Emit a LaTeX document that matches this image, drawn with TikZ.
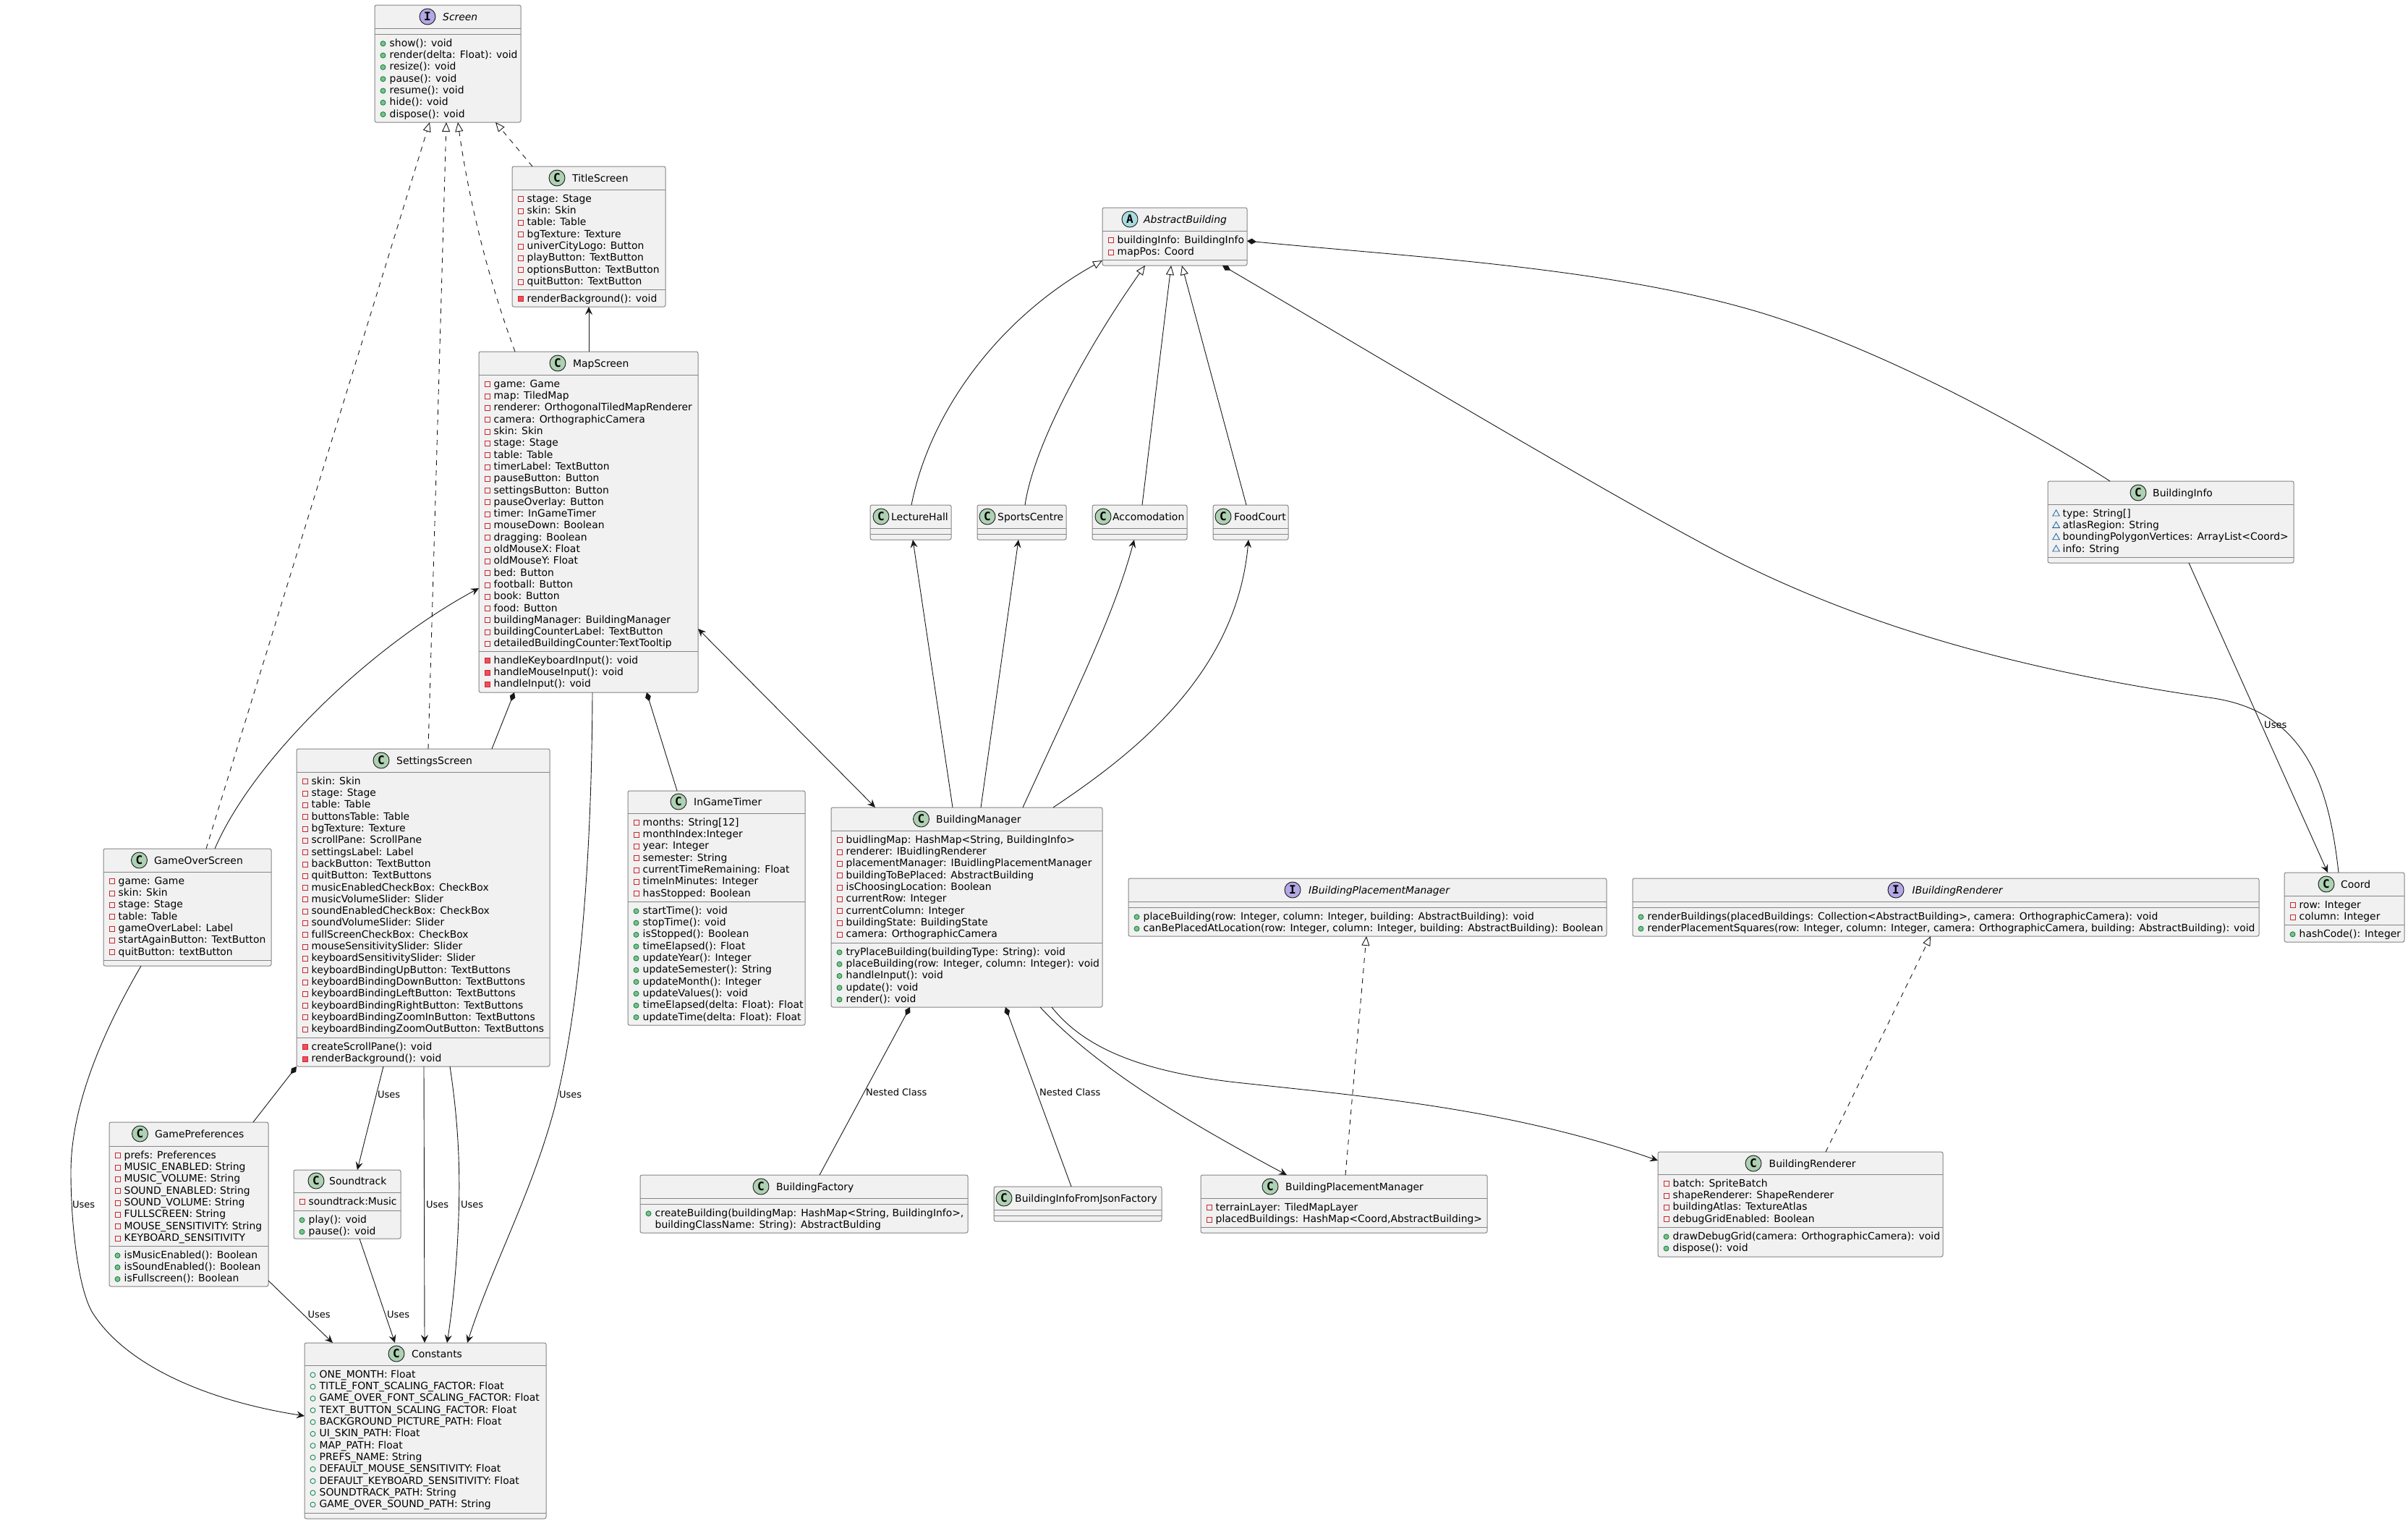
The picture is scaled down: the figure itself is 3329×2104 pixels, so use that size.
\documentclass[tikz,border=0pt]{standalone}
\usepackage{fontspec}
\setmainfont{DejaVu Sans}
\setmonofont{DejaVu Sans Mono}
\usetikzlibrary{arrows.meta,shapes.geometric}
\definecolor{boxfill}{HTML}{F1F1F1}
\definecolor{boxline}{HTML}{858585}
\definecolor{linedark}{HTML}{181818}
\definecolor{visred}{HTML}{C82930}
\definecolor{visredf}{HTML}{F24D5C}
\definecolor{visgreen}{HTML}{038048}
\definecolor{visgreenf}{HTML}{84BE84}
\definecolor{visblue}{HTML}{1963A0}
\tikzstyle{umlbox} = [draw=boxline, fill=boxfill, line width=1pt, rounded corners=2.5pt, anchor=north west, inner sep=0pt, outer sep=0pt]
\tikzstyle{umlrule} = [draw=boxline, line width=1pt]
\tikzstyle{cspot} = [circle, draw=linedark, line width=.9pt, fill={rgb,255:red,173;green,209;blue,178}, minimum size=22pt, inner sep=0pt, font=\fontsize{16}{16}\selectfont\ttfamily\bfseries]
\tikzstyle{ispot} = [cspot, fill={rgb,255:red,180;green,167;blue,229}]
\tikzstyle{aspot} = [cspot, fill={rgb,255:red,169;green,220;blue,223}]
\tikzstyle{cname} = [anchor=base west, inner sep=0pt]
\tikzstyle{rowtext} = [anchor=base west, inner sep=0pt]
\tikzstyle{lbl} = [anchor=west, inner sep=0pt, font=\fontsize{13}{15}\selectfont]
\tikzstyle{priv} = [rectangle, draw=visred, line width=.8pt, minimum size=7pt, inner sep=0pt]
\tikzstyle{privm} = [priv, fill=visredf]
\tikzstyle{pub} = [circle, draw=visgreen, line width=.8pt, fill=visgreenf, minimum size=7pt, inner sep=0pt]
\tikzstyle{pubf} = [circle, draw=visgreen, line width=.8pt, minimum size=7pt, inner sep=0pt]
\tikzstyle{pkg} = [regular polygon, regular polygon sides=3, draw=visblue, line width=.8pt, minimum size=11pt, inner sep=0pt]
\tikzstyle{norow} = [inner sep=0pt]
\tikzstyle{conn} = [draw=linedark, line width=.9pt]
\tikzstyle{uses} = [conn, -{Stealth[length=11pt,width=10pt,inset=4pt]}]
\tikzstyle{both} = [conn, {Stealth[length=11pt,width=10pt,inset=4pt]}-{Stealth[length=11pt,width=10pt,inset=4pt]}]
\tikzstyle{ext} = [conn, -{Triangle[open,length=13pt,width=11pt]}]
\tikzstyle{impl} = [ext, dash pattern=on 7pt off 7pt]
\tikzstyle{comp} = [conn, {Diamond[length=13pt,width=8pt]}-]
\newcommand{\classbox}[5]{
	\pgfmathsetmacro{\boxw}{#4-#2}
	\pgfmathsetmacro{\boxh}{#5-#3}
	\node[umlbox, minimum width=\boxw pt, minimum height=\boxh pt] (#1) at (#2,#3) {};
}
\newcommand{\classrule}[2]{\draw[umlrule] (#1.west |- 0,#2) -- (#1.east |- 0,#2);}
\newcommand{\classhead}[6][cspot]{
	\node[#1] (#2c) at (#3,#4) {#5};
	\node[cname] (#2n) at (#6,#4+5) {\classtext};
}
\newcommand{\classrows}[3]{
	\foreach \vis/\txt [count=\i from 0] in {#3} {
		\pgfmathsetmacro{\rowy}{#2+12.3+\i*16.3}
		\node[\vis] (v#1-#2-\i) at (#1+11.5,\rowy+1) {};
		\node[rowtext] (t#1-#2-\i) at (#1+20.5,\rowy+5) {\txt};
	}
}
\begin{document}
\begin{tikzpicture}[x=1pt, y=-1pt, font=\fontsize{13.9}{16}\selectfont]
	\useasboundingbox (0,0) rectangle (3329,2104);
	% screens
	\classbox{scr}{518}{7}{720}{169}
	\def\classtext{\itshape Screen}\classhead[ispot]{scr}{591}{23}{I}{612}
	\classrule{scr}{39}\classrule{scr}{47}
	\classrows{518}{47}{pub/{show(): void}, pub/{render(delta: Float): void}, pub/{resize(): void}, pub/{pause(): void}, pub/{resume(): void}, pub/{hide(): void}, pub/{dispose(): void}}

	\classbox{title}{708}{230}{920}{424}
	\def\classtext{TitleScreen}\classhead{title}{770}{246}{C}{791}
	\classrule{title}{262}\classrule{title}{400}
	\classrows{708}{262}{priv/{stage: Stage}, priv/{skin: Skin}, priv/{table: Table}, priv/{bgTexture: Texture}, priv/{univerCityLogo: Button}, priv/{playButton: TextButton}, priv/{optionsButton: TextButton}, priv/{quitButton: TextButton}}
	\classrows{708}{400}{privm/{renderBackground(): void}}

	\classbox{map}{662}{486}{965}{957}
	\def\classtext{MapScreen}\classhead{map}{771}{502}{C}{792}
	\classrule{map}{518}\classrule{map}{900}
	\classrows{662}{518}{priv/{game: Game}, priv/{map: TiledMap}, priv/{renderer: OrthogonalTiledMapRenderer}, priv/{camera: OrthographicCamera}, priv/{skin: Skin}, priv/{stage: Stage}, priv/{table: Table}, priv/{timerLabel: TextButton}, priv/{pauseButton: Button}, priv/{settingsButton: Button}, priv/{pauseOverlay: Button}, priv/{timer: InGameTimer}, priv/{mouseDown: Boolean}, priv/{dragging: Boolean}, priv/{oldMouseX: Float}, priv/{oldMouseY: Float}, priv/{bed: Button}, priv/{football: Button}, priv/{book: Button}, priv/{food: Button}, priv/{buildingManager: BuildingManager}, priv/{buildingCounterLabel: TextButton}, priv/{detailedBuildingCounter:TextTooltip}}
	\classrows{662}{900}{privm/{handleKeyboardInput(): void}, privm/{handleMouseInput(): void}, privm/{handleInput(): void}}

	\classbox{settings}{410}{1035}{760}{1474}
	\def\classtext{SettingsScreen}\classhead{settings}{527}{1051}{C}{548}
	\classrule{settings}{1067}\classrule{settings}{1434}
	\classrows{410}{1067}{priv/{skin: Skin}, priv/{stage: Stage}, priv/{table: Table}, priv/{buttonsTable: Table}, priv/{bgTexture: Texture}, priv/{scrollPane: ScrollPane}, priv/{settingsLabel: Label}, priv/{backButton: TextButton}, priv/{quitButton: TextButtons}, priv/{musicEnabledCheckBox: CheckBox}, priv/{musicVolumeSlider: Slider}, priv/{soundEnabledCheckBox: CheckBox}, priv/{soundVolumeSlider: Slider}, priv/{fullScreenCheckBox: CheckBox}, priv/{mouseSensitivitySlider: Slider}, priv/{keyboardSensitivitySlider: Slider}, priv/{keyboardBindingUpButton: TextButtons}, priv/{keyboardBindingDownButton: TextButtons}, priv/{keyboardBindingLeftButton: TextButtons}, priv/{keyboardBindingRightButton: TextButtons}, priv/{keyboardBindingZoomInButton: TextButtons}, priv/{keyboardBindingZoomOutButton: TextButtons}}
	\classrows{410}{1434}{privm/{createScrollPane(): void}, privm/{renderBackground(): void}}

	\classbox{gameover}{143}{1173}{375}{1335}
	\def\classtext{GameOverScreen}\classhead{gameover}{192.5}{1189}{C}{213}
	\classrule{gameover}{1205}\classrule{gameover}{1327}
	\classrows{143}{1205}{priv/{game: Game}, priv/{skin: Skin}, priv/{stage: Stage}, priv/{table: Table}, priv/{gameOverLabel: Label}, priv/{startAgainButton: TextButton}, priv/{quitButton: textButton}}

	\classbox{prefs}{151}{1551}{371}{1778}
	\def\classtext{GamePreferences}\classhead{prefs}{193.5}{1567}{C}{214}
	\classrule{prefs}{1584}\classrule{prefs}{1722}
	\classrows{151}{1584}{priv/{prefs: Preferences}, priv/{MUSIC\_ENABLED: String}, priv/{MUSIC\_VOLUME: String}, priv/{SOUND\_ENABLED: String}, priv/{SOUND\_VOLUME: String}, priv/{FULLSCREEN: String}, priv/{MOUSE\_SENSITIVITY: String}, priv/{KEYBOARD\_SENSITIVITY}}
	\classrows{151}{1722}{pub/{isMusicEnabled(): Boolean}, pub/{isSoundEnabled(): Boolean}, pub/{isFullscreen(): Boolean}}

	\classbox{sound}{406}{1617}{554}{1712}
	\def\classtext{Soundtrack}\classhead{sound}{437}{1632}{C}{455}
	\classrule{sound}{1648}\classrule{sound}{1673}
	\classrows{406}{1648}{priv/{soundtrack:Music}}
	\classrows{406}{1673}{pub/{play(): void}, pub/{pause(): void}}

	\classbox{consts}{421}{1856}{755}{2099}
	\def\classtext{Constants}\classhead{consts}{548}{1871}{C}{569}
	\classrule{consts}{1887}\classrule{consts}{2091}
	\classrows{421}{1887}{pubf/{ONE\_MONTH: Float}, pubf/{TITLE\_FONT\_SCALING\_FACTOR: Float}, pubf/{GAME\_OVER\_FONT\_SCALING\_FACTOR: Float}, pubf/{TEXT\_BUTTON\_SCALING\_FACTOR: Float}, pubf/{BACKGROUND\_PICTURE\_PATH: Float}, pubf/{UI\_SKIN\_PATH: Float}, pubf/{MAP\_PATH: Float}, pubf/{PREFS\_NAME: String}, pubf/{DEFAULT\_MOUSE\_SENSITIVITY: Float}, pubf/{DEFAULT\_KEYBOARD\_SENSITIVITY: Float}, pubf/{SOUNDTRACK\_PATH: String}, pubf/{GAME\_OVER\_SOUND\_PATH: String}}

	\classbox{timer}{868}{1093}{1113}{1417}
	\def\classtext{InGameTimer}\classhead{timer}{938}{1108}{C}{959}
	\classrule{timer}{1124}\classrule{timer}{1246}
	\classrows{868}{1124}{priv/{months: String[12]}, priv/{monthIndex:Integer}, priv/{year: Integer}, priv/{semester: String}, priv/{currentTimeRemaining: Float}, priv/{timeInMinutes: Integer}, priv/{hasStopped: Boolean}}
	\classrows{868}{1246}{pub/{startTime(): void}, pub/{stopTime(): void}, pub/{isStopped(): Boolean}, pub/{timeElapsed(): Float}, pub/{updateYear(): Integer}, pub/{updateSemester(): String}, pub/{updateMonth(): Integer}, pub/{updateValues(): void}, pub/{timeElapsed(delta: Float): Float}, pub/{updateTime(delta: Float): Float}}

	% buildings
	\classbox{manager}{1149}{1116}{1524}{1392}
	\def\classtext{BuildingManager}\classhead{manager}{1273.5}{1132}{C}{1294}
	\classrule{manager}{1148.5}\classrule{manager}{1303.5}
	\classrows{1149}{1148}{priv/{buidlingMap: HashMap<String, BuildingInfo>}, priv/{renderer: IBuidlingRenderer}, priv/{placementManager: IBuidlingPlacementManager}, priv/{buildingToBePlaced: AbstractBuilding}, priv/{isChoosingLocation: Boolean}, priv/{currentRow: Integer}, priv/{currentColumn: Integer}, priv/{buildingState: BuildingState}, priv/{camera: OrthographicCamera}}
	\classrows{1149}{1303}{pub/{tryPlaceBuilding(buildingType: String): void}, pub/{placeBuilding(row: Integer, column: Integer): void}, pub/{handleInput(): void}, pub/{update(): void}, pub/{render(): void}}

	\classbox{factory}{885}{1624}{1338}{1704}
	\def\classtext{BuildingFactory}\classhead{factory}{1052}{1640}{C}{1073}
	\classrule{factory}{1656}\classrule{factory}{1664}
	\classrows{885}{1664}{pub/{createBuilding(buildingMap: HashMap<String, BuildingInfo>,}, norow/{buildingClassName: String): AbstractBulding}}

	\classbox{jsonf}{1374}{1640}{1606}{1688}
	\def\classtext{BuildingInfoFromJsonFactory}\classhead{jsonf}{1388}{1656}{C}{1403}
	\classrule{jsonf}{1672}\classrule{jsonf}{1680}

	\classbox{placer}{1660}{1624}{2056}{1704}
	\def\classtext{BuildingPlacementManager}\classhead{placer}{1756}{1640}{C}{1777}
	\classrule{placer}{1656}\classrule{placer}{1696}
	\classrows{1660}{1656}{priv/{terrainLayer: TiledMapLayer}, priv/{placedBuildings: HashMap<Coord,AbstractBuilding>}}

	\classbox{render}{2292}{1592}{2686}{1737}
	\def\classtext{BuildingRenderer}\classhead{render}{2424}{1608}{C}{2445.5}
	\classrule{render}{1623.5}\classrule{render}{1696}
	\classrows{2292}{1623}{priv/{batch: SpriteBatch}, priv/{shapeRenderer: ShapeRenderer}, priv/{buildingAtlas: TextureAtlas}, priv/{debugGridEnabled: Boolean}}
	\classrows{2292}{1696}{pub/{drawDebugGrid(camera: OrthographicCamera): void}, pub/{dispose(): void}}

	\classbox{iplacer}{1560}{1214}{2221}{1294}
	\def\classtext{\itshape IBuildingPlacementManager}\classhead[ispot]{iplacer}{1787}{1230}{I}{1809}
	\classrule{iplacer}{1246}\classrule{iplacer}{1254}
	\classrows{1560}{1254}{pub/{placeBuilding(row: Integer, column: Integer, building: AbstractBuilding): void}, pub/{canBePlacedAtLocation(row: Integer, column: Integer, building: AbstractBuilding): Boolean}}

	\classbox{irender}{2257}{1214}{3123}{1294}
	\def\classtext{\itshape IBuildingRenderer}\classhead[ispot]{irender}{2621}{1230}{I}{2643.5}
	\classrule{irender}{1246}\classrule{irender}{1254}
	\classrows{2257}{1254}{pub/{renderBuildings(placedBuildings: Collection<AbstractBuilding>, camera: OrthographicCamera): void}, pub/{renderPlacementSquares(row: Integer, column: Integer, camera: OrthographicCamera, building: AbstractBuilding): void}}

	\classbox{coord}{3158}{1206}{3324}{1302}
	\def\classtext{Coord}\classhead{coord}{3216}{1222}{C}{3236}
	\classrule{coord}{1238}\classrule{coord}{1278}
	\classrows{3158}{1238}{priv/{row: Integer}, priv/{column: Integer}}
	\classrows{3158}{1278}{pub/{hashCode(): Integer}}

	\classbox{binfo}{2831}{665}{3171}{778}
	\def\classtext{BuildingInfo}\classhead{binfo}{2956}{681}{C}{2976}
	\classrule{binfo}{697}\classrule{binfo}{770}
	\classrows{2831}{697}{pkg/{type: String[]}, pkg/{atlasRegion: String}, pkg/{boundingPolygonVertices: ArrayList<Coord>}, pkg/{info: String}}

	\classbox{abstract}{1524}{287}{1724}{367}
	\def\classtext{\itshape AbstractBuilding}\classhead[aspot]{abstract}{1562}{303}{A}{1581}
	\classrule{abstract}{319}\classrule{abstract}{359}
	\classrows{1524}{319}{priv/{buildingInfo: BuildingInfo}, priv/{mapPos: Coord}}

	\classbox{lecture}{1203}{698}{1315}{746}
	\def\classtext{LectureHall}\classhead{lecture}{1218}{714}{C}{1232}
	\classrule{lecture}{730}\classrule{lecture}{738}

	\classbox{sports}{1351}{698}{1474}{746}
	\def\classtext{SportsCentre}\classhead{sports}{1365}{714}{C}{1379}
	\classrule{sports}{730}\classrule{sports}{738}

	\classbox{accom}{1510}{698}{1641}{746}
	\def\classtext{Accomodation}\classhead{accom}{1525}{714}{C}{1538}
	\classrule{accom}{730}\classrule{accom}{738}

	\classbox{food}{1677}{698}{1781}{746}
	\def\classtext{FoodCourt}\classhead{food}{1691}{714}{C}{1706}
	\classrule{food}{730}\classrule{food}{738}

	% realisations and inheritance
	\draw[impl] ([xshift=142]gameover.north west) -- ([xshift=76]scr.south west);
	\draw[impl] ([xshift=182]settings.north west) -- ([xshift=99]scr.south west);
	\draw[impl] ([xshift=50]map.north west) .. controls (680,400) and (650,290) .. ([xshift=115]scr.south west);
	\draw[impl] ([xshift=28]title.north west) -- ([xshift=167]scr.south west);
	\draw[impl] ([xshift=200]placer.north west) -- ([xshift=329]iplacer.south west);
	\draw[impl] ([xshift=232]render.north west) -- ([xshift=412]irender.south west);
	\draw[ext] ([xshift=57]lecture.north west) .. controls (1285,570) and (1380,440) .. ([yshift=-73]abstract.north west);
	\draw[ext] ([xshift=66]sports.north west) .. controls (1430,610) and (1510,470) .. ([xshift=59]abstract.south west);
	\draw[ext] ([xshift=69]accom.north west) -- ([xshift=95]abstract.south west);
	\draw[ext] ([xshift=46]food.north west) -- ([xshift=110]abstract.south west);

	% composition
	\draw[comp] ([xshift=49]map.south west) -- ([xshift=270]settings.north west);
	\draw[comp] ([xshift=232]map.south west) -- ([xshift=68]timer.north west);
	\draw[comp] (settings.south west) -- ([xshift=199]prefs.north west);
	\draw[comp] ([xshift=109]manager.south west) -- ([xshift=248]factory.north west);
	\draw[comp] ([xshift=241]manager.south west) -- ([xshift=107]jsonf.north west);
	\draw[comp] ([yshift=-46]abstract.north east) .. controls (1950,355) and (2230,370) .. (2437,433) .. controls (2600,483) and (2800,590) .. ([xshift=86]binfo.north west);
	\draw[comp] ([xshift=166]abstract.south west) .. controls (1900,490) and (2200,670) .. (2370,760) .. controls (2560,860) and (2780,925) .. (3060,965) .. controls (3190,985) and (3220,1090) .. ([xshift=75]coord.north west);

	% associations
	\draw[uses] ([xshift=152]map.north west) -- ([xshift=106]title.south west);
	\draw[uses] ([xshift=154]gameover.north west) .. controls (350,1050) and (510,895) .. ([yshift=-327]map.north west);
	\draw[uses] ([xshift=157]map.south west) .. controls (818,1200) and (800,1400) .. (767,1530) .. controls (735,1650) and (680,1750) .. ([xshift=225]consts.north west);
	\draw[both] ([yshift=-383]map.north east) -- ([xshift=61]manager.north west);
	\draw[uses] ([xshift=120]settings.south west) -- ([xshift=88]sound.north west);
	\draw[uses] ([xshift=176]settings.south west) -- ([xshift=166]consts.north west);
	\draw[uses] ([xshift=212]settings.south west) .. controls (632,1540) and (636,1600) .. (634.5,1665) .. controls (633,1730) and (627,1800) .. ([xshift=197]consts.north west);
	\draw[uses] ([xshift=52]gameover.south west) .. controls (140,1430) and (98,1530) .. (98,1620) .. controls (98,1700) and (110,1790) .. (130,1817.5) .. controls (175,1885) and (280,1935) .. ([yshift=-101]consts.north west);
	\draw[uses] ([yshift=-219]prefs.north east) -- ([xshift=39]consts.north west);
	\draw[uses] ([xshift=91]sound.south west) -- ([xshift=125]consts.north west);
	\draw[uses] ([xshift=195]binfo.south west) -- ([xshift=60]coord.north west);
	\draw[uses] ([xshift=168]manager.north west) -- ([xshift=59]lecture.south west);
	\draw[uses] ([xshift=207]manager.north west) -- ([xshift=57]sports.south west);
	\draw[uses] ([xshift=265]manager.north west) .. controls (1490,950) and (1540,850) .. ([xshift=58]accom.south west);
	\draw[uses] ([xshift=307]manager.north west) .. controls (1570,1040) and (1710,930) .. ([xshift=49]food.south west);
	\draw[uses] ([xshift=289]manager.south west) .. controls (1520,1480) and (1650,1555) .. ([xshift=119]placer.north west);
	\draw[uses] ([xshift=305]manager.south west) .. controls (1500,1450) and (1580,1480) .. (1700,1495) .. controls (1880,1515) and (2080,1530) .. ([yshift=-12]render.north west);

	% labels
	\node[lbl] (l1) at (100,1665) {Uses};
	\node[lbl] (l2) at (522,1513) {Uses};
	\node[lbl] (l3) at (773,1513) {Uses};
	\node[lbl] (l4) at (589,1665) {Uses};
	\node[lbl] (l5) at (637,1665) {Uses};
	\node[lbl] (l6) at (425.5,1817) {Uses};
	\node[lbl] (l7) at (535,1817) {Uses};
	\node[lbl] (l8) at (3130,1002) {Uses};
	\node[lbl] (l9) at (1197,1510) {Nested Class};
	\node[lbl] (l10) at (1437,1510) {Nested Class};
\end{tikzpicture}
\end{document}
